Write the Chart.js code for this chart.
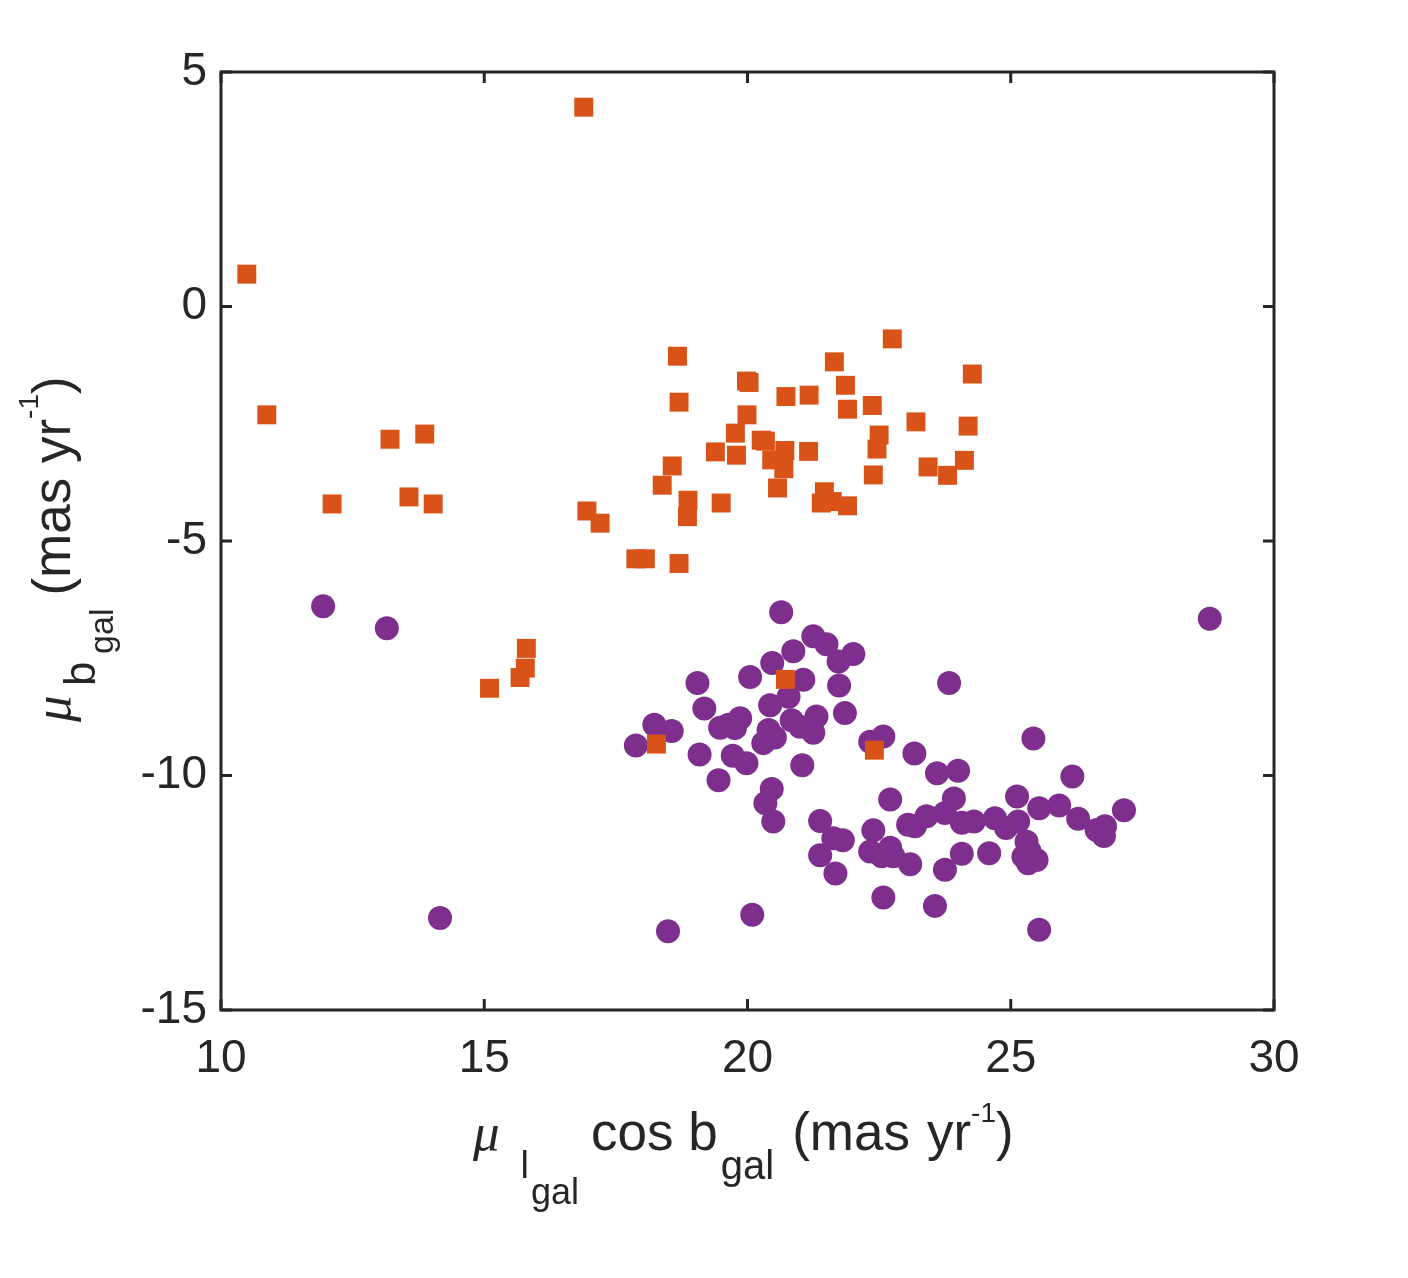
<!DOCTYPE html>
<html><head><meta charset="utf-8">
<script src="https://cdn.jsdelivr.net/npm/chart.js@4/dist/chart.umd.min.js"></script>
<style>html,body{margin:0;padding:0;background:#fff;overflow:hidden}canvas{display:block}</style>
</head><body>
<canvas id="c" width="1408" height="1278" style="width:1408px;height:1278px"></canvas>
<script>
const xTicks = [10, 15, 20, 25, 30];
const yTicks = [-15, -10, -5, 0, 5];

const orangeX = [10.49,16.89,10.87,12.11,13.21,13.57,13.87,14.03,15.10,15.80,15.78,15.68,16.95,17.20,17.88,18.06,18.27,18.38,18.57,18.67,18.70,18.70,18.87,18.86,19.39,19.50,19.77,19.79,19.98,20.03,19.99,20.26,20.34,20.46,20.71,20.69,20.57,20.73,20.72,21.17,21.16,21.46,21.40,21.61,21.90,21.65,21.86,21.90,22.37,22.41,22.50,22.46,22.39,22.75,23.20,23.43,23.80,24.12,24.19,24.27];
const orangeY = [0.69,4.25,-2.31,-4.21,-2.83,-4.06,-2.72,-4.21,-8.14,-7.29,-7.71,-7.91,-4.36,-4.62,-5.38,-5.38,-9.33,-3.81,-3.40,-1.06,-2.04,-5.48,-4.13,-4.48,-3.10,-4.19,-2.70,-3.17,-1.59,-1.62,-2.31,-2.85,-2.87,-3.27,-3.07,-3.46,-3.87,-1.92,-7.95,-1.89,-3.09,-3.95,-4.19,-4.16,-4.25,-1.18,-1.68,-2.19,-2.11,-9.46,-2.74,-3.04,-3.59,-0.69,-2.46,-3.42,-3.60,-3.28,-2.55,-1.44];

const purpleX = [11.94,13.15,14.16,18.49,20.09,28.78,23.83,20.64,21.25,21.50,20.87,21.73,22.01,20.47,21.06,21.74,20.05,19.05,20.78,20.43,19.18,21.85,19.86,19.48,19.64,19.76,20.84,21.31,21.00,21.25,20.40,20.52,20.30,18.23,18.56,17.88,19.09,19.72,19.98,21.04,19.45,20.46,20.34,20.49,21.38,21.63,21.81,21.38,21.67,22.71,22.39,22.33,22.55,22.71,22.77,23.09,23.05,23.40,23.75,22.58,23.56,23.75,22.33,22.58,23.17,25.43,23.60,24.00,26.17,23.92,25.12,25.54,25.92,27.15,26.28,23.18,24.07,24.30,24.70,24.91,25.14,26.63,26.79,26.77,24.07,24.59,25.30,25.36,25.24,25.49,25.33,25.54];
const purpleY = [-6.39,-6.86,-13.04,-13.32,-12.97,-6.66,-8.03,-6.52,-7.03,-7.20,-7.35,-7.57,-7.41,-7.60,-7.96,-8.08,-7.90,-8.03,-8.32,-8.50,-8.57,-8.67,-8.78,-8.98,-8.92,-8.99,-8.82,-8.74,-8.96,-9.09,-9.03,-9.19,-9.31,-8.92,-9.05,-9.36,-9.55,-9.58,-9.74,-9.78,-10.10,-10.29,-10.59,-10.98,-10.97,-11.34,-11.38,-11.70,-12.09,-10.51,-11.17,-11.62,-11.72,-11.54,-11.72,-11.89,-11.05,-10.87,-10.80,-12.60,-12.78,-12.01,-9.28,-9.17,-9.53,-9.21,-9.95,-9.90,-10.02,-10.49,-10.45,-10.70,-10.64,-10.74,-10.92,-11.08,-11.01,-10.98,-10.91,-11.12,-10.98,-11.16,-11.08,-11.29,-11.67,-11.66,-11.41,-11.62,-11.73,-11.80,-11.87,-13.29];

const INK = '#262626';
const SANS = '"Liberation Sans", Arial, Helvetica, sans-serif';
const SERIF = '"Liberation Serif", "Times New Roman", serif';

const xTitleRuns = [
  {t: 'μ', f: 'italic 53px ' + SERIF, dy: 0},
  {t: 'l', f: '38px ' + SANS, dy: 28, gap: 21},
  {t: 'gal', f: '36px ' + SANS, dy: 54, gap: 2},
  {t: 'cos b', f: '53px ' + SANS, dy: 0, gap: 12},
  {t: 'gal', f: '40px ' + SANS, dy: 29, gap: 3},
  {t: '(mas', f: '53px ' + SANS, dy: 0, gap: 18},
  {t: 'yr', f: '53px ' + SANS, dy: 0, gap: 17},
  {t: '-1', f: '28px ' + SANS, dy: -28},
  {t: ')', f: '53px ' + SANS, dy: 0}
];
const yTitleRuns = [
  {t: 'μ', f: 'italic 53px ' + SERIF, dy: 0},
  {t: 'b', f: '44px ' + SANS, dy: 25, gap: 9.5},
  {t: 'gal', f: '34px ' + SANS, dy: 43, gap: 7.5},
  {t: '(mas yr', f: '53px ' + SANS, dy: 0, gap: 13},
  {t: '-1', f: '28px ' + SANS, dy: -32},
  {t: ')', f: '53px ' + SANS, dy: 0}
];

function drawRuns(ctx, runs) {
  let x = 0;
  for (const r of runs) {
    x += r.gap || 0;
    ctx.font = r.f;
    ctx.fillText(r.t, x, r.dy);
    x += ctx.measureText(r.t).width;
  }
}

const framePlugin = {
  id: 'frame',
  afterDraw(chart) {
    const {ctx, chartArea: a, scales} = chart;
    const xs = scales.x, ys = scales.y;
    ctx.save();
    ctx.strokeStyle = INK;
    ctx.lineWidth = 3;
    ctx.lineCap = 'butt';
    const tl = 11;
    ctx.beginPath();
    xTicks.forEach(v => {
      const px = xs.getPixelForValue(v);
      ctx.moveTo(px, a.bottom); ctx.lineTo(px, a.bottom - tl);
      ctx.moveTo(px, a.top); ctx.lineTo(px, a.top + tl);
    });
    yTicks.forEach(v => {
      const py = ys.getPixelForValue(v);
      ctx.moveTo(a.left, py); ctx.lineTo(a.left + tl, py);
      ctx.moveTo(a.right, py); ctx.lineTo(a.right - tl, py);
    });
    ctx.stroke();
    ctx.strokeRect(a.left, a.top, a.right - a.left, a.bottom - a.top);

    // axis titles
    ctx.fillStyle = INK;
    ctx.textBaseline = 'alphabetic';
    ctx.textAlign = 'left';
    ctx.save();
    ctx.translate(473, 1150);
    drawRuns(ctx, xTitleRuns);
    ctx.restore();
    ctx.save();
    ctx.translate(70, 722);
    ctx.rotate(-Math.PI / 2);
    drawRuns(ctx, yTitleRuns);
    ctx.restore();
    ctx.restore();
  }
};

const orangeData = orangeX.map((x, i) => ({x, y: orangeY[i]}));
const purpleData = purpleX.map((x, i) => ({x, y: purpleY[i]}));

new Chart(document.getElementById('c'), {
  type: 'scatter',
  data: {
    datasets: [
      {label: 'group A', data: orangeData, pointStyle: 'rect', pointRadius: 13.4, pointHoverRadius: 13.4,
       backgroundColor: '#D95319', borderWidth: 0},
      {label: 'group B', data: purpleData, pointStyle: 'circle', pointRadius: 12, pointHoverRadius: 12,
       backgroundColor: '#7E2F8E', borderWidth: 0}
    ]
  },
  options: {
    responsive: false,
    devicePixelRatio: 1,
    animation: false,
    events: [],
    layout: {padding: {left: 0, top: 72, right: 134, bottom: 0}},
    plugins: {legend: {display: false}, tooltip: {enabled: false}},
    scales: {
      x: {
        type: 'linear', min: 10, max: 30,
        afterBuildTicks: s => { s.ticks = xTicks.map(v => ({value: v})); },
        afterFit: s => { s.height = 268; },
        grid: {display: false, drawTicks: false},
        border: {display: false},
        ticks: {font: {family: SANS, size: 46}, color: INK, padding: 22, maxRotation: 0}
      },
      y: {
        type: 'linear', min: -15, max: 5,
        afterBuildTicks: s => { s.ticks = yTicks.map(v => ({value: v})); },
        afterFit: s => { s.width = 221; },
        grid: {display: false, drawTicks: false},
        border: {display: false},
        ticks: {font: {family: SANS, size: 46}, color: INK, padding: 14}
      }
    }
  },
  plugins: [framePlugin]
});
</script>
</body></html>
